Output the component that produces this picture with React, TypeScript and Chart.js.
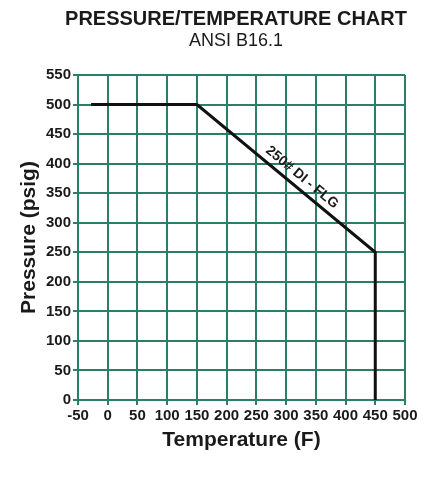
import React, { useEffect, useRef } from "react";
import { Chart, registerables } from "chart.js";

Chart.register(...registerables);

const temperatures = [-28, 150, 450, 450];
const pressures = [500, 500, 250, 0];
const seriesLabel = "250# DI - FLG";
const labelAtTemperature = 315;
const titleText = "PRESSURE/TEMPERATURE CHART";
const subtitleText = "ANSI B16.1";
const xTitle = "Temperature (F)";
const yTitle = "Pressure (psig)";

const GRID = "#2b7f69";
const INK = "#1a1a1a";
const FONT = "'Liberation Sans', Arial, sans-serif";

const titlePlugin = {
  id: "customTitles",
  afterDraw(chart: any) {
    const ctx = chart.ctx;
    ctx.save();
    ctx.fillStyle = INK;
    ctx.textAlign = "center";
    ctx.textBaseline = "middle";
    ctx.font = `bold 20px ${FONT}`;
    ctx.fillText(titleText, 236, 19);
    ctx.font = `18px ${FONT}`;
    ctx.fillText(subtitleText, 236, 41);
    ctx.restore();
  },
};

const lineLabelPlugin = {
  id: "lineLabel",
  afterDatasetsDraw(chart: any) {
    const xs = chart.scales.x;
    const ys = chart.scales.y;
    const x1 = xs.getPixelForValue(temperatures[1]);
    const y1 = ys.getPixelForValue(pressures[1]);
    const x2 = xs.getPixelForValue(temperatures[2]);
    const y2 = ys.getPixelForValue(pressures[2]);
    const t = (labelAtTemperature - temperatures[1]) / (temperatures[2] - temperatures[1]);
    const px = x1 + (x2 - x1) * t;
    const py = y1 + (y2 - y1) * t;
    const angle = Math.atan2(y2 - y1, x2 - x1);
    const ctx = chart.ctx;
    ctx.save();
    ctx.translate(px, py);
    ctx.rotate(angle);
    ctx.fillStyle = INK;
    ctx.font = `bold 14px ${FONT}`;
    ctx.textAlign = "center";
    ctx.textBaseline = "middle";
    ctx.fillText(seriesLabel, 0, -11);
    ctx.restore();
  },
};

export default function App() {
  const ref = useRef<HTMLCanvasElement | null>(null);
  useEffect(() => {
    if (!ref.current) return;
    const chart = new Chart(ref.current, {
      type: "scatter",
      data: {
        datasets: [
          {
            label: seriesLabel,
            data: temperatures.map((t, i) => ({ x: t, y: pressures[i] })),
            showLine: true,
            borderColor: "#111111",
            borderWidth: 3,
            pointRadius: 0,
            tension: 0,
          },
        ],
      },
      options: {
        responsive: false,
        animation: false,
        layout: { padding: { top: 75, right: 26, left: 0, bottom: 0 } },
        plugins: {
          legend: { display: false },
          tooltip: { enabled: false },
        },
        scales: {
          x: {
            type: "linear",
            min: -50,
            max: 500,
            afterFit: (s: any) => {
              s.height = 79;
            },
            ticks: {
              stepSize: 50,
              autoSkip: false,
              maxRotation: 0,
              padding: 2,
              color: INK,
              font: { family: FONT, size: 15, weight: "bold" },
            },
            grid: { color: GRID, lineWidth: 2, tickLength: 5 },
            border: { color: GRID, width: 2 },
            title: {
              display: true,
              text: xTitle,
              color: INK,
              font: { family: FONT, size: 21, weight: "bold" },
              padding: { top: 4, bottom: 26 },
            },
          },
          y: {
            type: "linear",
            min: 0,
            max: 550,
            afterFit: (s: any) => {
              s.width = 78;
            },
            ticks: {
              stepSize: 50,
              autoSkip: false,
              padding: 2,
              color: INK,
              font: { family: FONT, size: 15, weight: "bold" },
            },
            grid: { color: GRID, lineWidth: 2, tickLength: 5 },
            border: { color: GRID, width: 2 },
            title: {
              display: true,
              text: yTitle,
              color: INK,
              font: { family: FONT, size: 21, weight: "bold" },
              padding: { top: 17, bottom: 4 },
            },
          },
        },
      },
      plugins: [titlePlugin, lineLabelPlugin],
    });
    return () => chart.destroy();
  }, []);
  return (
    <div style={{ position: "absolute", left: 0, top: 0, width: 431, height: 479, background: "#fff" }}>
      <canvas ref={ref} width={431} height={479} style={{ display: "block" }} />
    </div>
  );
}
